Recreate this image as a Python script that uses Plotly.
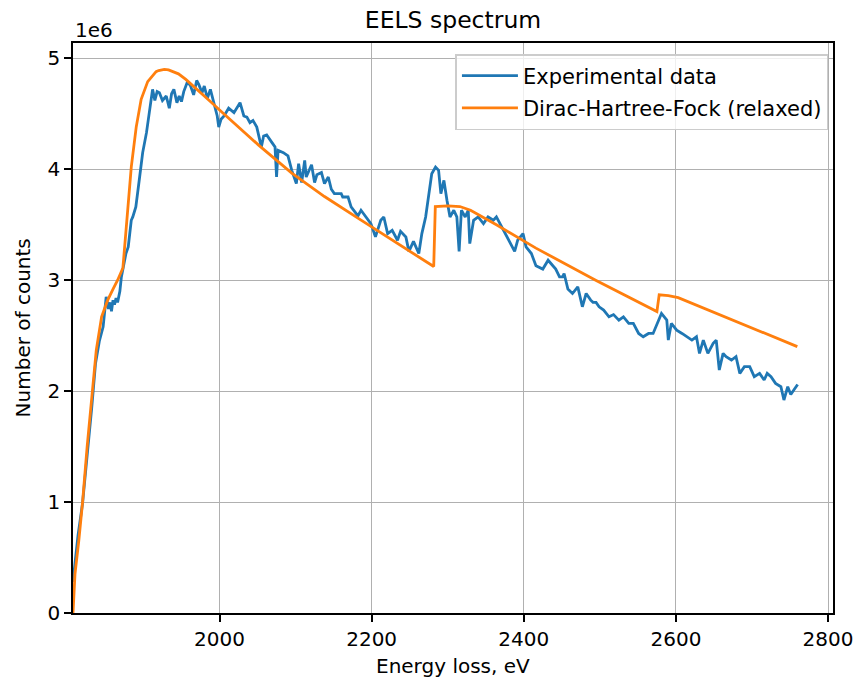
import plotly.graph_objects as go

# Experimental data (energy loss in eV, counts in units of 1e6)
exp_energy = [1807.4, 1810, 1814, 1820, 1826, 1832, 1837, 1842, 1847, 1851, 1854, 1856, 1858, 1860, 1862,
              1864, 1866, 1869, 1871, 1875, 1877, 1880, 1882, 1884, 1886, 1890, 1895, 1899, 1904, 1908,
              1910, 1912, 1915, 1918, 1921, 1925, 1930, 1934, 1937, 1940, 1944, 1947, 1950, 1953, 1958,
              1962, 1966, 1970, 1973, 1977, 1980, 1984, 1988, 1993, 1997, 1999, 2002, 2006, 2012, 2019,
              2023, 2027, 2032, 2036, 2040, 2044, 2049, 2055, 2058, 2062, 2069, 2073, 2075, 2077, 2084,
              2090, 2095, 2101, 2104, 2108, 2112, 2114, 2121, 2125, 2128, 2134, 2138, 2143, 2147, 2151,
              2156, 2160, 2162, 2169, 2173, 2177, 2182, 2186, 2192, 2199, 2205, 2212, 2216, 2221, 2227,
              2234, 2238, 2245, 2249, 2255, 2262, 2266, 2271, 2275, 2279, 2284, 2288, 2291, 2295, 2299,
              2303, 2308, 2312, 2315, 2318, 2323, 2327, 2329, 2334, 2340, 2347, 2353, 2360, 2364, 2371,
              2377, 2384, 2388, 2392, 2399, 2403, 2410, 2416, 2425, 2432, 2436, 2442, 2447, 2451, 2453,
              2458, 2464, 2471, 2477, 2482, 2488, 2491, 2495, 2499, 2505, 2512, 2518, 2525, 2531, 2538,
              2544, 2551, 2557, 2564, 2570, 2575, 2581, 2588, 2590, 2594, 2601, 2608, 2614, 2621, 2627,
              2631, 2636, 2642, 2649, 2653, 2657, 2662, 2666, 2673, 2679, 2684, 2690, 2697, 2703, 2710,
              2716, 2720, 2725, 2731, 2738, 2742, 2747, 2751, 2755, 2760]
exp_counts = [0.28, 0.45, 0.70, 0.99, 1.40, 1.85, 2.25, 2.45, 2.58, 2.85, 2.74, 2.80, 2.72, 2.82, 2.78,
              2.84, 2.80, 2.90, 3.03, 3.15, 3.24, 3.30, 3.42, 3.54, 3.57, 3.66, 3.93, 4.15, 4.33, 4.51,
              4.60, 4.72, 4.62, 4.70, 4.69, 4.62, 4.66, 4.55, 4.68, 4.72, 4.60, 4.66, 4.61, 4.70, 4.79,
              4.75, 4.67, 4.80, 4.76, 4.69, 4.75, 4.64, 4.72, 4.60, 4.48, 4.38, 4.45, 4.48, 4.55, 4.51,
              4.56, 4.60, 4.48, 4.47, 4.42, 4.44, 4.38, 4.20, 4.30, 4.31, 4.24, 4.20, 3.93, 4.17, 4.15,
              4.12, 3.99, 3.87, 4.05, 3.88, 4.08, 3.93, 4.04, 3.88, 3.95, 3.97, 3.87, 3.93, 3.82, 3.78,
              3.78, 3.78, 3.75, 3.75, 3.66, 3.62, 3.58, 3.63, 3.57, 3.51, 3.39, 3.54, 3.57, 3.42, 3.45,
              3.36, 3.44, 3.39, 3.26, 3.35, 3.24, 3.42, 3.57, 3.78, 3.96, 4.02, 3.99, 3.78, 3.90, 3.72,
              3.57, 3.63, 3.57, 3.26, 3.63, 3.57, 3.63, 3.33, 3.54, 3.57, 3.51, 3.57, 3.54, 3.57, 3.48,
              3.39, 3.30, 3.26, 3.36, 3.42, 3.30, 3.24, 3.13, 3.10, 3.18, 3.15, 3.10, 3.03, 3.03, 3.06,
              2.92, 2.88, 2.94, 2.76, 2.88, 2.82, 2.80, 2.80, 2.76, 2.73, 2.67, 2.69, 2.64, 2.67, 2.61,
              2.61, 2.52, 2.49, 2.52, 2.52, 2.61, 2.70, 2.64, 2.46, 2.61, 2.55, 2.52, 2.49, 2.46, 2.49,
              2.34, 2.46, 2.34, 2.43, 2.46, 2.19, 2.34, 2.31, 2.28, 2.31, 2.16, 2.22, 2.22, 2.13, 2.16,
              2.10, 2.16, 2.13, 2.07, 2.04, 1.92, 2.04, 1.97, 2.01, 2.06]

# Dirac-Hartree-Fock (relaxed) model
dhf_energy = [1807.4, 1810, 1815, 1820, 1826, 1833, 1838, 1845, 1853, 1860, 1866, 1873, 1876, 1879.5,
              1884, 1890.5, 1897, 1905.6, 1910, 1916.6, 1920, 1927.4, 1933, 1938.2, 1946, 1955.7, 1965,
              1977.3, 1988, 1999, 2020, 2051, 2095, 2138, 2182, 2232, 2281.6, 2283.7, 2300, 2316, 2330,
              2364, 2416, 2494.5, 2575, 2578, 2590, 2603, 2680, 2759.6]
dhf_counts = [0.0, 0.35, 0.65, 1.0, 1.5, 2.0, 2.37, 2.67, 2.82, 2.92, 3.0, 3.11, 3.35, 3.66,
              4.02, 4.38, 4.63, 4.79, 4.83, 4.88, 4.89, 4.90, 4.895, 4.88, 4.86, 4.81, 4.75,
              4.67, 4.61, 4.54, 4.41, 4.22, 3.965, 3.754, 3.559, 3.34, 3.123, 3.664, 3.67, 3.664, 3.63,
              3.499, 3.289, 3.0, 2.717, 2.868, 2.86, 2.843, 2.626, 2.401]

x_ticks = [2000, 2200, 2400, 2600, 2800]
y_ticks = [0, 1, 2, 3, 4, 5]
SCALE = 1e6

FONT = "DejaVu Sans"
FS = 20
fig = go.Figure()
fig.add_trace(go.Scatter(x=exp_energy, y=[v * SCALE for v in exp_counts], mode="lines",
                         name="Experimental data", line=dict(color="#1f77b4", width=2.8),
                         legendgroup="a"))
fig.add_trace(go.Scatter(x=dhf_energy, y=[v * SCALE for v in dhf_counts], mode="lines",
                         name="Dirac-Hartree-Fock (relaxed)", line=dict(color="#ff7f0e", width=2.8),
                         legendgroup="b"))

fig.update_layout(
    width=865, height=681,
    margin=dict(l=73, r=26, t=43, b=68),
    paper_bgcolor="white", plot_bgcolor="white",
    font=dict(family=FONT, size=FS, color="black"),
    title=dict(text="EELS spectrum", x=0.5, xref="paper", y=1 - 20 / 681, yref="container",
               yanchor="middle", xanchor="center", font=dict(size=23.5, color="black")),
    showlegend=True,
    legend=dict(x=0.994, y=0.9807, xanchor="right", yanchor="top", bgcolor="rgba(255,255,255,0.8)",
                bordercolor="#cccccc", borderwidth=1.5, font=dict(size=21, color="black"),
                tracegroupgap=2, itemwidth=56),
)
fig.update_xaxes(range=[1807.4, 2806.5], tickvals=x_ticks, ticktext=[str(t) for t in x_ticks],
                 ticks="outside", ticklen=7, tickcolor="black", tickwidth=1.6,
                 showline=True, linecolor="black", linewidth=1.6, mirror=True,
                 showgrid=True, gridcolor="#b0b0b0", gridwidth=1.4, zeroline=False)
fig.update_yaxes(range=[0, 5.138 * SCALE], tickvals=[t * SCALE for t in y_ticks],
                 ticktext=[str(t) for t in y_ticks],
                 ticks="outside", ticklen=7, tickcolor="black", tickwidth=1.6,
                 showline=True, linecolor="black", linewidth=1.6, mirror=True,
                 showgrid=True, gridcolor="#b0b0b0", gridwidth=1.4, zeroline=False)

fig.add_annotation(text="Energy loss, eV", xref="paper", yref="paper", x=0.5, y=-(666 - 613) / 570,
                   yanchor="middle", xanchor="center", showarrow=False, font=dict(size=FS, color="black"))
fig.add_annotation(text="Number of counts", xref="paper", yref="paper", x=-(73 - 23) / 766, y=0.5,
                   textangle=-90, xanchor="center", yanchor="middle", showarrow=False,
                   font=dict(size=FS, color="black"))
fig.add_annotation(text="1e6", xref="paper", yref="paper", x=0, y=1 + (43 - 30) / 570,
                   xanchor="left", yanchor="middle", showarrow=False, font=dict(size=FS, color="black"))

fig.write_html("out.html")
